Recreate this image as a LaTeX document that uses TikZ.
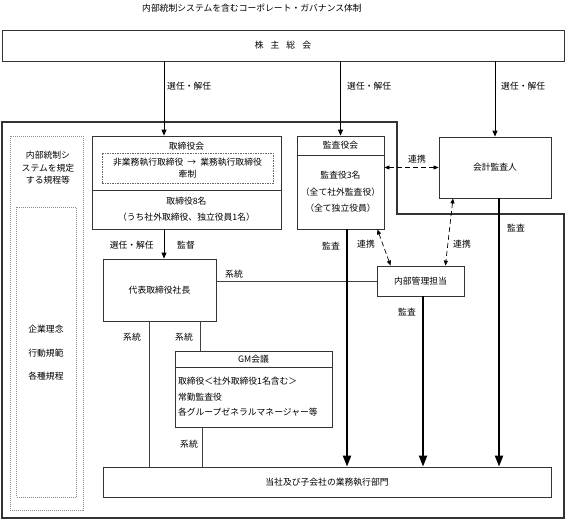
\documentclass[tikz,border=0pt]{standalone}
\usepackage{fontspec}
\setmainfont{Noto Sans CJK JP}
\usetikzlibrary{arrows.meta}

\begin{document}
\begin{tikzpicture}[x=1pt,y=-1pt,
  every node/.style={font=\fontsize{8.8}{10}\selectfont, inner sep=0pt},
  box/.style={draw=black!80, line width=0.8pt},
  dotbox/.style={draw=black!45, line width=0.6pt, dash pattern=on 1pt off 1pt},
  chkbox/.style={draw=black!60, line width=0.6pt, dash pattern=on 1.5pt off 1pt},
  sel/.style={-{Triangle[length=6pt,width=5pt]}, line width=0.8pt},
  audit/.style={-{Triangle[length=11pt,width=8pt]}, line width=2pt},
  link/.style={{Triangle[length=5pt,width=4pt]}-{Triangle[length=5pt,width=4pt]}, line width=0.7pt, dash pattern=on 5pt off 3pt},
  sys/.style={draw=black!75, line width=0.7pt},
  lbl/.style={anchor=west}]
\useasboundingbox (0,0) rectangle (566,520);

\node (title) at (252,8) {内部統制システムを含むコーポレート・ガバナンス体制};
\node[box, minimum width=562pt, minimum height=31pt] (share) at (283,45.5) {株\hspace{7pt}主\hspace{7pt}総\hspace{7pt}会};

% outer frame
\draw[draw=black!80, line width=1.3pt] (2,122) -- (397,122) -- (397,214) -- (564,214) -- (564,518) -- (2,518) -- cycle;

% rules on the left
\node[dotbox, minimum width=73pt, minimum height=374pt] (rules) at (46.5,323) {};
\node[dotbox, minimum width=60pt, minimum height=290pt] (rulesin) at (46.5,352) {};
\node[align=center, font=\fontsize{8.8}{12.5}\selectfont] (rulestxt) at (48,168) {内部統制シ\\ステムを規定\\する規程等};
\node (rinen) at (46,329) {企業理念};
\node (kihan) at (46,353) {行動規範};
\node (kitei) at (46,376) {各種規程};

% board
\node[box, minimum width=189pt, minimum height=54pt] (bod) at (186.5,163) {};
\node (bodttl) at (186.5,146) {取締役会};
\node[chkbox, minimum width=171pt, minimum height=30pt, align=center, font=\fontsize{8.8}{12}\selectfont] (check) at (187.5,168) {非業務執行取締役\hspace{4pt}→\hspace{4pt}業務執行取締役\\牽制};
\node[box, minimum width=189pt, minimum height=39pt, align=center] (bodmem) at (186.5,209.5) {取締役8名\\[6pt]（うち社外取締役、独立役員1名）};

% auditors
\node[box, minimum width=87pt, minimum height=19pt] (kakttl) at (340.5,145.5) {監査役会};
\node[box, minimum width=87pt, minimum height=74pt, align=center] (kakmem) at (340.5,192) {監査役3名\\[6.5pt]（全て社外監査役）\\[6.5pt]（全て独立役員）};
\node[box, minimum width=112pt, minimum height=61pt] (kaikei) at (495,167.5) {会計監査人};

% execution
\node[box, minimum width=113pt, minimum height=62pt] (ceo) at (159.5,290) {代表取締役社長};
\node[box, minimum width=87pt, minimum height=30pt] (naibu) at (420.5,281) {内部管理担当};
\node[box, minimum width=157pt, minimum height=16pt] (gmttl) at (253.5,359) {GM会議};
\node[box, minimum width=157pt, minimum height=60pt, inner xsep=3pt, text width=151pt, align=left] (gmmem) at (253.5,397) {取締役＜社外取締役1名含む＞\\[5.5pt]常勤監査役\\[5.5pt]各グループゼネラルマネージャー等};
\node[box, minimum width=448pt, minimum height=30pt] (exec) at (327,482) {当社及び子会社の業務執行部門};

% election
\coordinate (xsel) at (164,0);
\draw[sel] (share.south -| xsel) -- (bod.north -| xsel);
\draw[sel] (share.south -| kakttl.north) -- (kakttl.north);
\draw[sel] (share.south -| kaikei.north) -- (kaikei.north);
\draw[sel] (bodmem.south -| xsel) -- (ceo.north -| xsel);
\node[lbl] (sel1) at (167,86) {選任・解任};
\node[lbl] (sel2) at (347,86) {選任・解任};
\node[lbl] (sel3) at (501,86) {選任・解任};
\node[anchor=east] (sel4) at (154,245) {選任・解任};
\node[lbl] (kantoku) at (177,245) {監督};

% lines of command
\draw[sys] (ceo.east |- naibu.west) -- (naibu.west);
\coordinate (xs1) at (149,0);
\coordinate (xs2) at (200,0);
\coordinate (xs3) at (202,0);
\draw[sys] (ceo.south -| xs1) -- (exec.north -| xs1);
\draw[sys] (ceo.south -| xs2) -- (gmttl.north -| xs2);
\draw[sys] (gmmem.south -| xs3) -- (exec.north -| xs3);
\node (kei1) at (234,274) {系統};
\node (kei2) at (132,337) {系統};
\node (kei3) at (184,337) {系統};
\node (kei4) at (189,444) {系統};

% audits
\coordinate (xkak) at (347,0);
\coordinate (xnai) at (423,0);
\coordinate (xkai) at (499,0);
\draw[audit] (kakmem.south -| xkak) -- (exec.north -| xkak);
\draw[audit] (naibu.south -| xnai) -- (exec.north -| xnai);
\draw[audit] (kaikei.south -| xkai) -- (exec.north -| xkai);
\node (kansa1) at (331,246) {監査};
\node (kansa2) at (516,228) {監査};
\node (kansa3) at (407,312) {監査};

% cooperation
\draw[link] (kakmem.east |- kaikei.west) -- (kaikei.west);
\draw[link] ([xshift=-7pt]kakmem.south east) -- ([xshift=14pt]naibu.north west);
\draw[link] ([xshift=-42pt]kaikei.south) -- ([xshift=-19pt]naibu.north east);
\node (ren1) at (417,159) {連携};
\node (ren2) at (366,244) {連携};
\node (ren3) at (462,244) {連携};
\end{tikzpicture}
\end{document}
